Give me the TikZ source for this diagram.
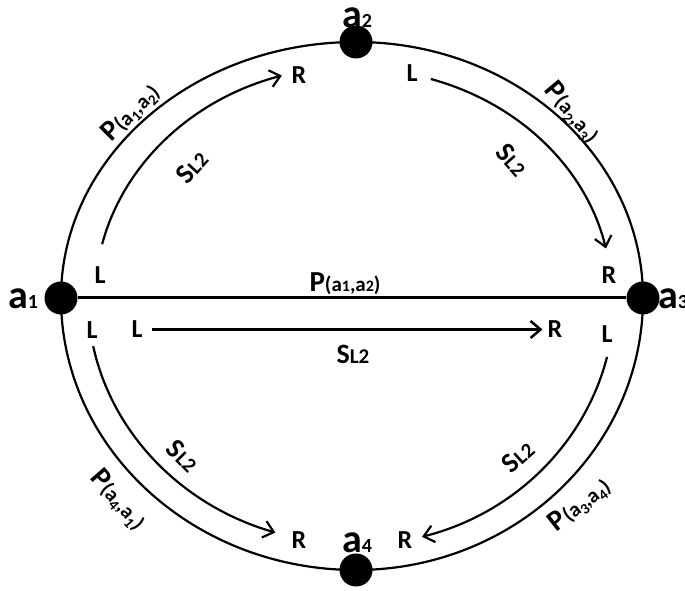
\documentclass[tikz,border=0pt]{standalone}
\usepackage{fontspec}
\setmainfont{Carlito}
\usetikzlibrary{arrows.meta}
\newcommand\myfs[1]{\fontsize{#1}{#1}\selectfont}
\newcommand\Alab[1]{{\myfs{40}a}{\myfs{20}#1}}
\newcommand\PlabH[2]{{\myfs{29}P}{\myfs{21}(a{\myfs{16}#1},a{\myfs{16}#2})}}
\newcommand\PlabR[2]{{\myfs{29}P}{\myfs{21}(a\raisebox{-0.2em}{\myfs{15}#1},a\raisebox{-0.2em}{\myfs{15}#2})}}
\newcommand\Slab{{\myfs{28}S}{\myfs{21}L2}}
\begin{document}
\begin{tikzpicture}[x=1pt,y=1pt,font=\bfseries,
  dot/.style={circle,fill=black,inner sep=0pt,minimum size=33pt},
  lr/.style={inner sep=0pt,font=\bfseries\myfs{26}},
  txt/.style={inner sep=0pt},
  rim/.style={line width=2.2pt},
  flow/.style={line width=2.2pt,-{Straight Barb[length=10pt,width=17pt]}}]
\useasboundingbox (0,0) rectangle (685,591);
\coordinate (O) at (356,293);
% vertices
\node[dot] (a1) at (61,293) {};
\node[dot] (a2) at (356,549) {};
\node[dot] (a3) at (643,293) {};
\node[dot] (a4) at (356,21) {};
% outer ellipse
\draw[rim] (a1.center) arc[start angle=180,end angle=90,x radius=295,y radius=256];
\draw[rim] (a2.center) arc[start angle=90,end angle=0,x radius=287,y radius=256];
\draw[rim] (a3.center) arc[start angle=0,end angle=-90,x radius=287,y radius=272];
\draw[rim] (a4.center) arc[start angle=-90,end angle=-180,x radius=295,y radius=272];
\draw[line width=3pt] (a1) -- (a3);
% vertex labels
\node[txt] (t1) at (23,292) {\Alab{1}};
\node[txt] (t2) at (357,573.5) {\Alab{2}};
\node[txt,anchor=west] (t3) at (658,292) {\Alab{3}};
\node[txt] (t4) at (357,48) {\Alab{4}};
% inner arcs
\coordinate (s1) at ([shift={(166.6:261 and 232)}]O);
\coordinate (s2) at ([shift={(73:256 and 229)}]O);
\coordinate (s3) at ([shift={(-168.7:268 and 246)}]O);
\coordinate (s4) at ([shift={(-13.8:258.5 and 247)}]O);
\draw[flow] (s1) arc[start angle=166.6,end angle=106.5,x radius=261,y radius=232];
\draw[flow] (s2) arc[start angle=73,end angle=12.5,x radius=256,y radius=229];
\draw[flow] (s3) arc[start angle=-168.7,end angle=-107.5,x radius=268,y radius=246];
\draw[flow] (s4) arc[start angle=-13.8,end angle=-75.2,x radius=258.5,y radius=247];
% L / R labels
\node[lr] (L1) at (100,316) {L};
\node[lr] (R1) at (299,516) {R};
\node[lr] (L2) at (412,518) {L};
\node[lr] (R2) at (609,316) {R};
\node[lr] (L3) at (92,261) {L};
\node[lr] (R3) at (299,51) {R};
\node[lr] (L4) at (607,257) {L};
\node[lr] (R4) at (405,51) {R};
\node[lr] (Lm) at (137,261.5) {L};
\node[lr] (Rm) at (555,261.5) {R};
\draw[flow,line width=2.5pt,shorten <=9pt,shorten >=5pt] (Lm) -- (Rm);
% path / sequence labels
\node[txt] (pm) at (345,307) {\PlabH{1}{2}};
\node[txt] (sm) at (353,237) {\Slab};
\node[txt,rotate=45] (p12) at (131,478) {\PlabR{1}{2}};
\node[txt,rotate=48] (sq1) at (192,424) {\Slab};
\node[txt,rotate=-50] (p23) at (572,478) {\PlabR{2}{3}};
\node[txt,rotate=-48] (sq2) at (512,431) {\Slab};
\node[txt,rotate=-45] (sq3) at (183,135) {\Slab};
\node[txt,rotate=-49] (p41) at (118,91) {\PlabR{4}{1}};
\node[txt,rotate=42] (sq4) at (518,134) {\Slab};
\node[txt,rotate=38] (p34) at (580,86) {\PlabR{3}{4}};
\end{tikzpicture}
\end{document}
